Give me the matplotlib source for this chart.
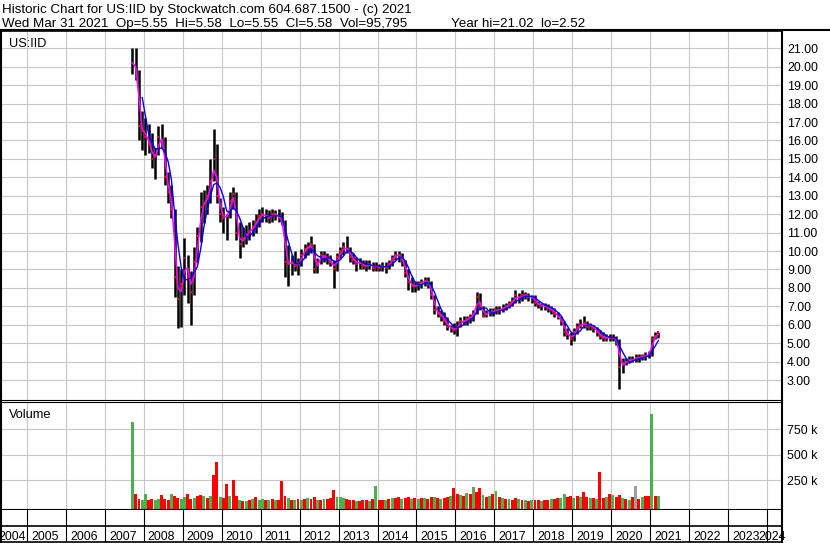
import numpy as np
import pandas as pd
import matplotlib
matplotlib.use("Agg")
import matplotlib.pyplot as plt
from matplotlib.lines import Line2D

plt.rcParams['font.family'] = ['Liberation Sans', 'DejaVu Sans']

# monthly bars, Sep 2007 .. Mar 2021
first_month = "2007-09"
last_month = "2021-03"

hi = [21.02, 21.0, 19.8, 17.6,                                            # 2007
      17.2, 16.9, 16.4, 15.6, 16.8, 16.9, 16.2, 14.3, 13.6, 12.3, 9.2, 9.0,  # 2008
      10.7, 9.8, 8.9, 10.2, 11.3, 13.2, 13.3, 13.6, 15.0, 16.6, 15.8, 12.9,  # 2009
      12.4, 12.0, 13.2, 13.5, 13.2, 11.6, 11.3, 11.4, 11.6, 11.7, 12.0, 12.3,  # 2010
      12.4, 12.3, 12.2, 12.3, 12.2, 12.3, 12.1, 11.7, 10.3, 9.8, 10.0, 9.6,  # 2011
      10.1, 10.4, 10.5, 10.8, 10.4, 9.6, 10.0, 10.0, 9.9, 9.8, 9.5, 9.9,     # 2012
      10.2, 10.5, 10.8, 10.2, 9.9, 9.7, 9.6, 9.5, 9.5, 9.5, 9.4, 9.4,        # 2013
      9.3, 9.4, 9.4, 9.5, 9.8, 10.0, 10.0, 9.9, 9.5, 9.0, 8.6, 8.4,          # 2014
      8.4, 8.5, 8.6, 8.6, 8.4, 7.6, 7.0, 6.8, 6.7, 6.4, 6.0, 6.1,            # 2015
      6.2, 6.4, 6.5, 6.5, 6.6, 6.8, 7.8, 7.7, 7.0, 6.8, 6.9, 6.9,            # 2016
      7.0, 7.0, 7.1, 7.2, 7.3, 7.5, 7.9, 7.7, 7.9, 7.8, 7.7, 7.6,            # 2017
      7.6, 7.3, 7.2, 7.2, 7.1, 7.0, 6.9, 6.7, 6.5, 6.2, 5.8, 5.6,            # 2018
      5.8, 6.1, 6.3, 6.5, 6.2, 6.1, 6.0, 5.9, 5.7, 5.6, 5.5, 5.5,            # 2019
      5.5, 5.4, 5.2, 4.2, 4.2, 4.3, 4.3, 4.4, 4.4, 4.4, 4.5, 4.6,            # 2020
      5.4, 5.6, 5.62]                                                      # 2021
lo = [19.6, 19.3, 16.0, 15.5,
      15.2, 15.3, 14.5, 13.9, 15.2, 15.6, 13.6, 12.6, 11.8, 7.5, 5.8, 5.9,
      7.6, 7.2, 6.0, 7.6, 9.4, 10.5, 11.5, 12.0, 12.6, 13.8, 12.6, 11.6,
      11.0, 10.6, 11.8, 12.3, 10.6, 9.6, 10.2, 10.4, 10.6, 10.8, 11.0, 11.3,
      11.6, 11.6, 11.5, 11.6, 11.7, 11.6, 11.4, 8.6, 8.1, 8.7, 8.9, 8.7,
      9.2, 9.6, 9.8, 9.9, 8.8, 8.8, 9.3, 9.4, 9.3, 9.2, 8.0, 8.9,
      9.6, 9.8, 9.9, 9.4, 9.3, 8.9, 9.0, 9.0, 8.9, 9.0, 8.9, 8.9,
      8.9, 8.9, 8.8, 9.0, 9.2, 9.5, 9.4, 9.2, 8.6, 7.9, 7.8, 7.8,
      7.9, 8.0, 8.1, 8.0, 7.4, 6.6, 6.4, 6.2, 6.0, 5.7, 5.6, 5.5,
      5.4, 5.9, 6.0, 6.0, 6.1, 6.2, 6.6, 6.8, 6.4, 6.4, 6.5, 6.5,
      6.6, 6.6, 6.7, 6.8, 6.9, 7.0, 7.2, 7.2, 7.3, 7.4, 7.3, 7.2,
      7.0, 6.9, 6.8, 6.8, 6.7, 6.6, 6.4, 6.3, 6.0, 5.4, 5.2, 4.9,
      5.1, 5.5, 5.8, 5.8, 5.7, 5.7, 5.6, 5.4, 5.2, 5.1, 5.1, 5.1,
      5.1, 4.9, 2.52, 3.4, 3.8, 3.9, 4.0, 4.0, 4.0, 4.1, 4.1, 4.2,
      4.3, 5.2, 5.3]
cl = [20.2, 19.8, 16.8, 16.5,
      16.2, 15.8, 15.0, 15.2, 16.2, 16.0, 14.0, 13.2, 12.3, 8.6, 7.4, 8.2,
      9.6, 8.6, 7.8, 9.4, 10.8, 12.4, 12.6, 13.0, 13.8, 15.0, 13.0, 12.0,
      11.8, 11.9, 12.7, 13.1, 11.0, 10.4, 10.7, 10.9, 11.1, 11.3, 11.6, 11.9,
      12.0, 11.9, 11.8, 12.0, 12.0, 11.8, 11.6, 9.4, 9.3, 9.4, 9.2, 9.3,
      9.8, 10.1, 10.2, 10.4, 9.0, 9.4, 9.8, 9.7, 9.6, 9.4, 9.0, 9.7,
      10.0, 10.2, 10.1, 9.7, 9.5, 9.3, 9.4, 9.2, 9.2, 9.3, 9.1, 9.2,
      9.1, 9.2, 9.1, 9.3, 9.6, 9.8, 9.8, 9.5, 8.8, 8.3, 8.1, 8.1,
      8.2, 8.3, 8.4, 8.3, 7.6, 6.8, 6.6, 6.5, 6.2, 5.9, 5.8, 5.7,
      5.9, 6.2, 6.2, 6.3, 6.4, 6.6, 7.5, 7.0, 6.5, 6.6, 6.7, 6.7,
      6.8, 6.8, 6.9, 7.0, 7.1, 7.3, 7.6, 7.4, 7.6, 7.6, 7.5, 7.5,
      7.2, 7.1, 7.0, 7.0, 6.9, 6.8, 6.6, 6.4, 6.2, 5.6, 5.5, 5.2,
      5.6, 5.9, 6.0, 6.1, 5.9, 6.0, 5.8, 5.6, 5.4, 5.3, 5.3, 5.3,
      5.3, 5.2, 3.7, 3.9, 4.0, 4.1, 4.1, 4.2, 4.2, 4.3, 4.3, 4.4,
      5.2, 5.4, 5.58]

# volume in thousands, and direction of the bar: G up, R down, N unchanged
vol_k = [816, 113, 70, 60,
         113, 60, 70, 55, 65, 103, 70, 60, 122, 95, 80, 70,
         90, 122, 70, 80, 100, 110, 95, 80, 100, 299, 426, 90,
         80, 211, 100, 250, 97, 60, 45, 50, 55, 70, 85, 60,
         70, 60, 55, 65, 60, 55, 240, 100, 80, 60, 55, 70,
         60, 65, 75, 70, 90, 60, 55, 65, 70, 80, 152, 90,
         85, 80, 70, 60, 55, 50, 45, 55, 60, 50, 65, 191,
         60, 55, 60, 70, 75, 80, 90, 65, 75, 85, 70, 80,
         70, 75, 80, 70, 90, 85, 75, 70, 80, 90, 100, 171,
         120, 110, 100, 130, 120, 181, 140, 171, 110, 90, 100, 120,
         142, 90, 80, 70, 65, 60, 83, 65, 55, 60, 50, 60,
         55, 60, 50, 55, 60, 65, 70, 75, 80, 122, 90, 100,
         80, 95, 90, 132, 85, 75, 80, 70, 332, 80, 90, 113,
         103, 90, 110, 80, 70, 60, 85, 191, 70, 90, 95, 100,
         897, 95, 98]
vol_dir = ("GRRG"
           "GRRGGRRRGRRG" "GRRGRRGRGRRG" "RRGRRGRGRGRG" "GRGRGRRRGRGR"
           "GRGRRGRGRRRG" "GGRRRGRRRGRG" "RRGRGRRGRRGR" "GRGRRGRGRRGR"
           "RGRGRGRRGRGR" "GRGRGRRGRGRG" "RRGRRGRRGGRR" "GRGRRGRGRRGR"
           "GRRGRGRNRGRR"
           "GRG")

years = list(range(2004, 2025))
price_ticks = list(range(3, 22))
vol_ticks = [250, 500, 750]

title1 = "Historic Chart for US:IID by Stockwatch.com 604.687.1500 - (c) 2021"
title2 = "Wed Mar 31 2021  Op=5.55  Hi=5.58  Lo=5.55  Cl=5.58  Vol=95,795"
title2_year = "Year hi=21.02  lo=2.52"
symbol = "US:IID"

months = pd.period_range(first_month, last_month, freq="M")
x = np.asarray(months.year + (months.month - 0.5) / 12, dtype=float)
close = pd.Series(cl)
ma_fast = close.rolling(2, min_periods=1).mean()
ma_slow = close.rolling(4).mean()

W, H = 830, 543
fig = plt.figure(figsize=(W / 100, H / 100), dpi=100)
fig.patch.set_facecolor("white")


def px_box(x0, y0, x1, y1):
    # pixel box (y down) -> figure fraction rect
    return [x0 / W, 1 - y1 / H, (x1 - x0) / W, (y1 - y0) / H]


ax_p = fig.add_axes(px_box(1, 31, 782, 400))
ax_v = fig.add_axes(px_box(1, 402, 782, 509.5))
ax_x = fig.add_axes(px_box(1, 509.5, 782, 541.5))

grid_c = "#c8c8c8"
xlim = (2004.333, 2024.384)
for ax in (ax_p, ax_v, ax_x):
    ax.set_xlim(*xlim)
    ax.set_xticks([])
    for yr in years:
        ax.axvline(yr, color="black" if ax is ax_x else grid_c, lw=0.8, zorder=0)
    for side in ("left", "right"):
        ax.spines[side].set_linewidth(1.5)

# price panel
ax_p.set_ylim(1.915, 21.94)
ax_p.set_yticks(price_ticks)
ax_p.set_yticklabels([f"{t:.2f}" for t in price_ticks])
ax_p.yaxis.tick_right()
ax_p.tick_params(axis="y", length=0, pad=3.6, labelsize=8.9)
for t in price_ticks:
    ax_p.axhline(t, color=grid_c, lw=0.8, zorder=0)
ax_p.spines["top"].set_linewidth(1.2)
ax_p.spines["bottom"].set_linewidth(0.8)
ax_p.vlines(x, lo, hi, color="black", lw=1.8, zorder=2)
ax_p.plot(x, cl, ls="none", marker="s", ms=1.8, mew=0, color="red", zorder=3)
ax_p.plot(x, ma_fast, color="#ff00ff", lw=1.1, zorder=4)
ax_p.plot(x, ma_slow, color="#0000ff", lw=1.0, zorder=5)

# volume panel
vcol = {"G": "#4caf50", "R": "#ff0000", "N": "#a0a0a0"}
v_bottom = -34
ax_v.set_ylim(v_bottom, 1015)
ax_v.set_yticks(vol_ticks)
ax_v.set_yticklabels([f"{t} k" for t in vol_ticks])
ax_v.yaxis.tick_right()
ax_v.tick_params(axis="y", length=0, pad=3.6, labelsize=8.9)
for t in vol_ticks:
    ax_v.axhline(t, color=grid_c, lw=0.8, zorder=0)
ax_v.spines["top"].set_linewidth(0.8)
ax_v.spines["bottom"].set_linewidth(1.5)
ax_v.bar(x, np.array(vol_k) - v_bottom, bottom=v_bottom, width=0.075,
         color=[vcol[c] for c in vol_dir], lw=0, zorder=2)

# year strip
ax_x.set_ylim(0, 1)
ax_x.set_yticks([])
ax_x.spines["top"].set_visible(False)
ax_x.spines["bottom"].set_linewidth(1.2)
ax_x.axhline(0.5, color="black", lw=1.2)
tr = ax_x.get_xaxis_transform()
px = 1 / 38.95  # one pixel in years
for yr in years:
    if yr == years[0]:
        ax_x.text(yr + 1 - px, 0.06, str(yr), transform=tr, ha="right", va="baseline",
                  fontsize=8.9, clip_on=True)
    elif yr == years[-1]:
        ax_x.text(xlim[1] + 4 * px, 0.06, str(yr), transform=tr, ha="right", va="baseline",
                  fontsize=8.9, clip_on=False)
    else:
        ax_x.text(yr + 4 * px, 0.06, str(yr), transform=tr, ha="left", va="baseline",
                  fontsize=8.9)

# header
fig.text(2 / W, 1 - 12.7 / H, title1, fontsize=9.6, va="baseline")
fig.text(2 / W, 1 - 26.7 / H, title2, fontsize=9.6, va="baseline")
fig.text(585 / W, 1 - 26.7 / H, title2_year, fontsize=9.6, va="baseline", ha="right")
fig.add_artist(Line2D([0, 1], [1 - 30 / H] * 2, color="black", lw=1.5,
                      transform=fig.transFigure))
fig.text(9 / W, 1 - 46.5 / H, symbol, fontsize=9.2, va="baseline")
fig.text(9 / W, 1 - 418 / H, "Volume", fontsize=9.2, va="baseline")

fig.savefig("out.png", dpi=100)
